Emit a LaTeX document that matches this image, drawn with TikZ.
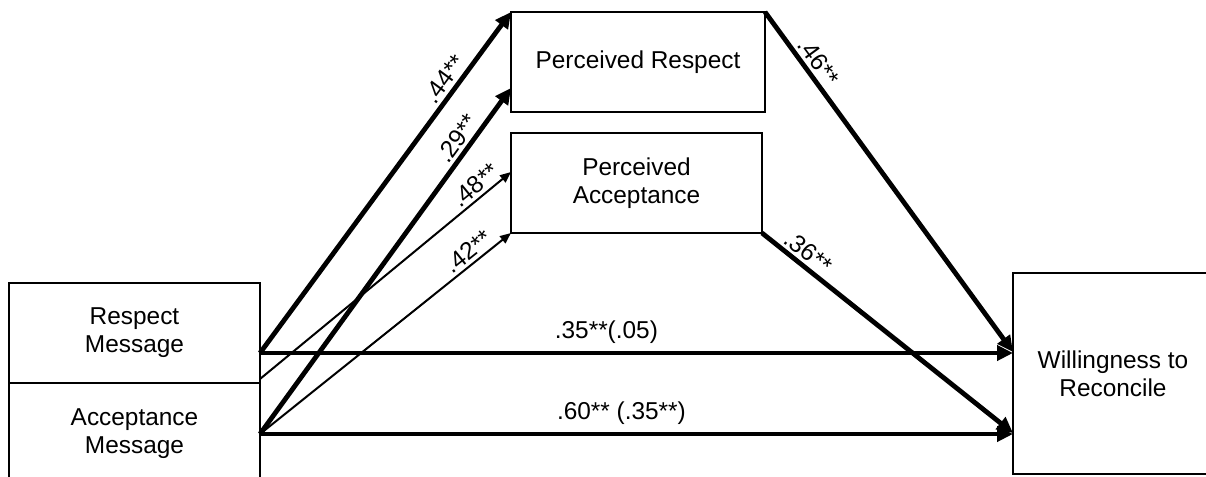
\documentclass[tikz,border=0pt]{standalone}
\usepackage{fontspec}
\setmainfont{Liberation Sans}
\usetikzlibrary{arrows.meta}

\begin{document}
\begin{tikzpicture}[x=0.5pt, y=-0.5pt,
    every node/.style={font=\fontsize{12.2}{14}\selectfont},
    box/.style={draw, line width=0.65pt, align=center, inner sep=0pt, outer sep=0pt},
    bold/.style={line width=2.4pt, -{Triangle[length=8pt,width=7.5pt]}},
    slim/.style={line width=1pt, -{Triangle[length=5.5pt,width=4.5pt]}},
    coef/.style={sloped, above, inner sep=1.5pt}]
  \useasboundingbox (0,0) rectangle (1206,477);
  % message boxes on the left
  \node[box, minimum width=125.5pt, minimum height=50pt] (rmsg) at (134.5,333) {Respect\\Message};
  \node[box, minimum width=125.5pt, minimum height=51pt] (amsg) at (134.5,434) {Acceptance\\Message};
  % mediators
  \node[box, minimum width=127pt, minimum height=50pt] (prsp) at (638,62) {Perceived Respect};
  \node[box, minimum width=125.5pt, minimum height=50pt] (pacc) at (636.5,183) {Perceived\\Acceptance};
  % outcome (runs past the right edge)
  \node[box, minimum width=100pt, minimum height=100.5pt] (wtr) at (1113,373.5) {Willingness to\\Reconcile};
  % paths to the mediators
  \coordinate (rfrom) at ([yshift=-10pt]rmsg.east);
  \draw[bold] (rfrom) -- (prsp.north west) node[coef, pos=0.78] {.44**};
  \draw[bold] (amsg.east) -- ([yshift=-13pt]prsp.west) node[coef, pos=0.83] {.29**};
  \draw[slim] ([yshift=-23pt]rmsg.east) -- ([yshift=5.5pt]pacc.west) node[coef, pos=0.89] {.48**};
  \draw[slim] (amsg.east) -- (pacc.south west) node[coef, pos=0.86] {.42**};
  % paths to the outcome
  \draw[bold] (prsp.north east) -- ([yshift=10.75pt]wtr.west) node[coef, pos=0.17] {.46**};
  \draw[bold] (pacc.south east) -- ([yshift=-29.75pt]wtr.west) node[coef, pos=0.15] {.36**};
  \draw[bold] (rfrom) -- (rfrom -| wtr.west) node[coef, pos=0.46, above=2pt] {.35**(.05)};
  \draw[bold] (amsg.east) -- (amsg.east -| wtr.west) node[coef, pos=0.48, above=2pt] {.60** (.35**)};
\end{tikzpicture}
\end{document}
